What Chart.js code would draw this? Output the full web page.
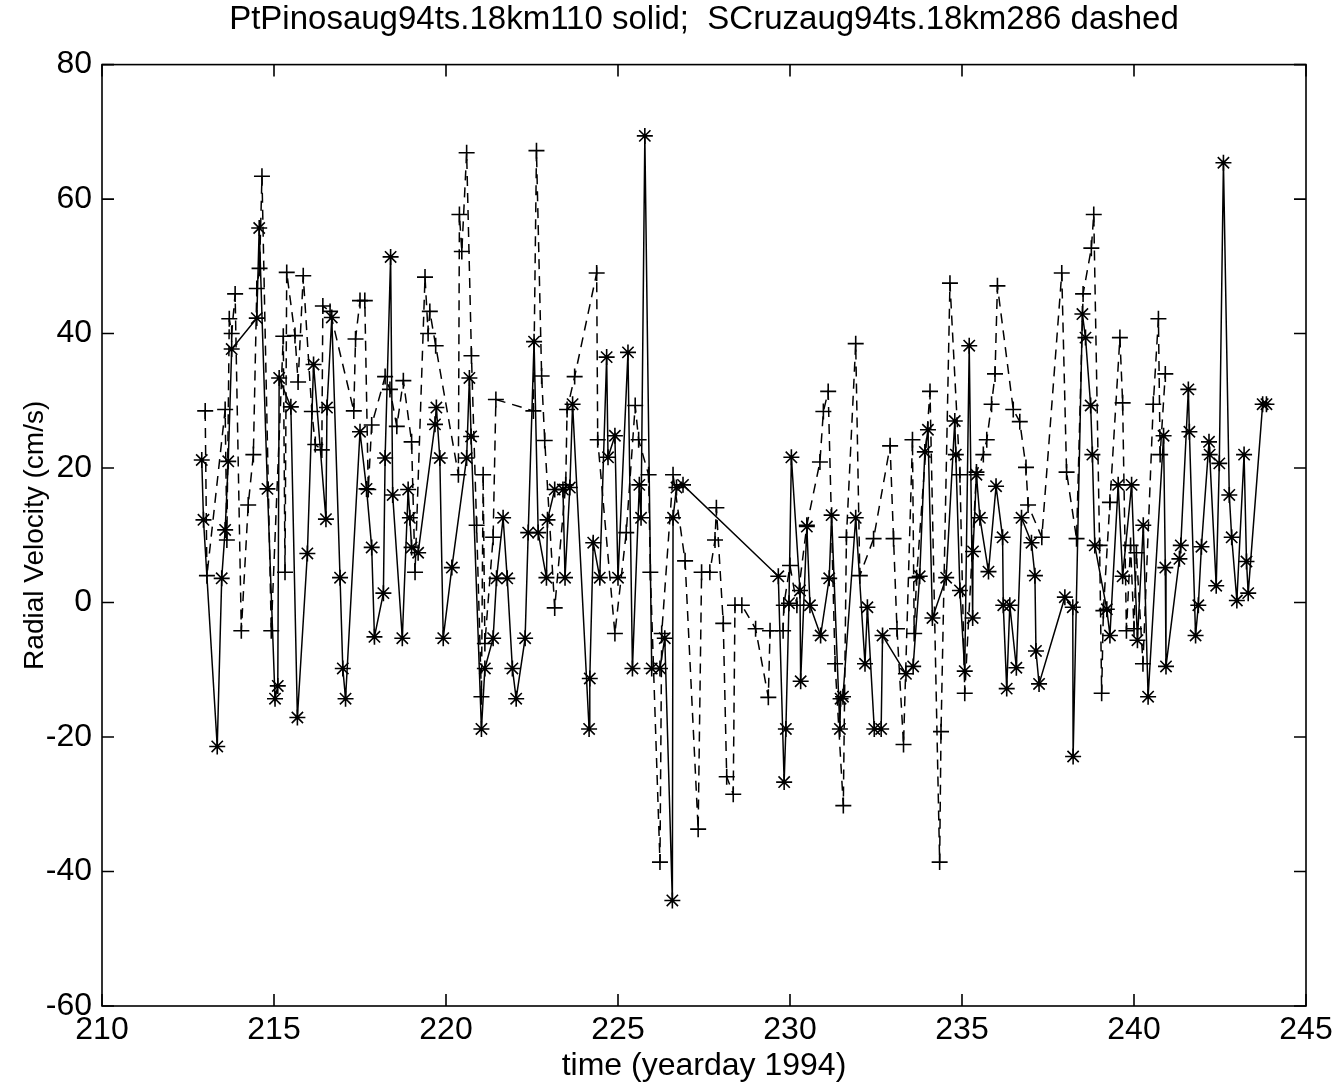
<!DOCTYPE html>
<html>
<head>
<meta charset="utf-8">
<script src="https://cdn.jsdelivr.net/npm/chart.js@4.4.1/dist/chart.umd.min.js"></script>
<style>
  html, body { margin: 0; background: #fff; }
</style>
</head>
<body>
<canvas id="velChart" width="1340" height="1085"></canvas>
<script>
// PtPinos (solid, asterisks)
const solidDays = [212.90,212.95,213.35,213.48,213.58,213.67,213.77,214.50,214.57,214.81,215.03,215.11,215.15,215.49,215.68,215.97,216.15,216.51,216.54,216.68,216.92,217.0,217.08,217.50,217.69,217.84,217.92,218.18,218.23,218.39,218.45,218.73,218.90,218.95,219.0,219.19,219.68,219.72,219.82,219.92,220.17,220.60,220.68,220.73,221.03,221.13,221.37,221.47,221.66,221.78,221.93,222.04,222.30,222.39,222.56,222.68,222.92,222.95,223.16,223.40,223.46,223.60,223.68,224.16,224.18,224.28,224.47,224.67,224.71,224.91,225.0,225.29,225.42,225.62,225.67,225.78,225.98,226.22,226.36,226.58,226.60,226.70,226.89,229.66,229.83,229.88,229.97,230.04,230.29,230.31,230.49,230.58,230.89,231.14,231.21,231.45,231.47,231.54,231.91,232.18,232.25,232.45,232.65,232.69,233.37,233.58,233.77,233.92,234.01,234.14,234.54,234.79,234.82,234.94,235.08,235.21,235.31,235.32,235.42,235.52,235.77,235.99,236.18,236.20,236.30,236.39,236.58,236.73,237.02,237.12,237.15,237.24,237.99,238.22,238.23,238.50,238.59,238.74,238.79,238.86,239.21,239.30,239.54,239.67,239.93,240.10,240.27,240.41,240.86,240.91,240.93,241.32,241.36,241.58,241.61,241.79,241.87,241.96,242.18,242.20,242.39,242.48,242.60,242.77,242.84,242.99,243.20,243.27,243.32,243.74,243.85];
const solidVel = [21.2,12.3,-21.4,3.6,10.8,21.0,37.7,42.3,55.7,16.9,-14.3,-12.4,33.4,29.1,-17.1,7.3,35.4,12.4,29.0,42.4,3.7,-9.8,-14.3,25.4,16.9,8.2,-5.1,1.4,21.5,51.4,16.0,-5.3,16.8,12.6,8.2,7.4,26.5,29.0,21.5,-5.3,5.2,21.5,33.4,24.7,-18.8,-9.8,-5.3,3.6,12.6,3.6,-9.8,-14.3,-5.3,10.4,38.8,10.4,3.7,12.3,16.8,16.8,3.7,17.1,29.5,-18.8,-11.3,8.9,3.7,36.5,21.6,24.8,3.7,37.2,-9.8,17.5,12.6,69.4,-9.8,-9.8,-5.3,-44.3,12.6,17.1,17.5,3.9,-26.7,-18.8,-0.1,21.6,1.8,-11.7,11.3,-0.4,-4.9,3.6,13.0,-18.8,-14.3,-14.0,12.6,-9.1,-0.7,-18.8,-18.8,-4.9,-10.6,-9.5,3.9,22.4,25.7,-2.3,3.7,27.0,22.0,1.8,-10.2,38.2,-2.3,7.6,19.0,12.6,4.6,17.3,9.7,-0.4,-12.8,-0.4,-9.7,12.6,8.9,4.0,-7.2,-12.1,0.8,-0.7,-22.9,42.9,39.4,29.3,22.0,8.5,-1.0,-4.9,17.5,3.9,17.5,-5.6,11.5,-14.0,24.8,5.2,-9.5,6.5,8.5,31.7,25.4,-4.9,-0.4,8.3,23.9,22.0,2.5,20.7,65.4,16.0,9.7,0.3,22.0,6.1,1.4,29.5,29.5];

// SCruz (dashed, plus signs)
const dashDays = [213.0,213.05,213.58,213.63,213.70,213.77,213.87,214.05,214.25,214.40,214.50,214.58,214.65,214.92,215.27,215.32,215.37,215.61,215.70,215.85,216.10,216.20,216.39,216.42,216.63,217.32,217.37,217.50,217.64,217.74,217.84,218.23,218.37,218.57,218.76,219.0,219.10,219.39,219.48,219.53,219.70,220.36,220.39,220.46,220.60,220.74,220.89,221.03,221.08,221.13,221.37,221.45,222.54,222.63,222.78,222.87,223.16,223.48,223.52,223.74,224.38,224.41,224.91,225.24,225.50,225.60,225.89,225.94,226.22,226.27,226.60,226.95,227.33,227.43,227.67,227.82,227.86,228.06,228.16,228.35,228.40,228.60,229.0,229.37,229.42,229.80,229.82,230.0,230.20,230.49,230.87,230.97,231.11,231.31,231.55,231.64,231.91,232.03,232.43,232.91,233.01,233.11,233.30,233.56,233.61,233.68,234.07,234.35,234.39,234.65,234.94,235.08,235.42,235.62,235.72,235.86,235.96,236.03,236.49,236.68,236.86,236.92,237.32,237.90,238.04,238.33,238.52,238.76,238.83,239.0,239.06,239.11,239.30,239.59,239.67,239.78,239.90,240.0,240.07,240.26,240.56,240.71,240.76,240.91];
const dashVel = [28.5,4.0,28.7,9.3,42.2,40.0,45.9,-4.2,14.5,22.0,46.7,49.7,63.4,-4.2,39.6,4.5,49.1,39.7,32.8,48.6,28.4,23.5,22.7,44.1,43.3,28.5,39.2,44.9,44.9,16.8,26.4,33.6,31.7,26.2,33.0,23.9,4.5,48.4,40.0,43.3,38.2,19.0,57.7,52.2,66.9,36.7,11.5,-14.0,19.0,-6.1,9.7,30.2,28.5,67.2,33.7,24.1,-0.8,17.5,28.7,33.6,49.0,24.2,-4.6,10.4,29.3,24.2,19.0,4.5,-38.6,-4.6,19.0,6.2,-33.7,4.5,4.5,9.3,14.1,-3.1,-25.9,-28.5,-0.4,-0.4,-3.9,-14.1,-4.2,-4.2,-0.4,5.5,-0.4,11.5,20.9,28.4,31.4,-9.1,-30.2,9.7,38.5,4.0,9.5,23.3,9.5,-3.9,-21.1,24.2,-4.6,3.7,31.4,-38.6,-19.2,47.5,19.0,-13.5,19.4,22.0,24.2,29.5,34.0,47.1,28.7,26.9,20.1,14.5,9.7,49.0,19.4,9.5,45.9,52.7,57.7,8.5,-13.5,-1.2,14.9,39.4,29.7,-4.2,8.5,-3.9,7.4,-9.1,29.5,42.2,22.0,34.0];

const xTicks = [210, 215, 220, 225, 230, 235, 240, 245];
const yTicks = [-60, -40, -20, 0, 20, 40, 60, 80];

function toPoints(days, vals) {
  return days.map((d, i) => ({ x: d, y: vals[i] }));
}

const fontFam = "'Liberation Sans', Arial, sans-serif";

// matlab-style box with inward ticks on all four sides
const boxTicks = {
  id: 'boxTicks',
  afterDatasetsDraw(chart) {
    const { ctx, chartArea: a, scales } = chart;
    const len = 12;
    ctx.save();
    ctx.strokeStyle = '#000';
    ctx.lineWidth = 1.6;
    ctx.strokeRect(a.left, a.top, a.right - a.left, a.bottom - a.top);
    ctx.beginPath();
    xTicks.forEach(v => {
      const px = scales.x.getPixelForValue(v);
      ctx.moveTo(px, a.bottom); ctx.lineTo(px, a.bottom - len);
      ctx.moveTo(px, a.top); ctx.lineTo(px, a.top + len);
    });
    yTicks.forEach(v => {
      const py = scales.y.getPixelForValue(v);
      ctx.moveTo(a.left, py); ctx.lineTo(a.left + len, py);
      ctx.moveTo(a.right, py); ctx.lineTo(a.right - len, py);
    });
    ctx.stroke();
    ctx.restore();
  }
};

const ctx = document.getElementById('velChart').getContext('2d');
const velChart = new Chart(ctx, {
  type: 'line',
  data: {
    datasets: [{
      label: 'PtPinos solid',
      data: toPoints(solidDays, solidVel),
      borderColor: '#000',
      borderWidth: 1.5,
      pointStyle: 'star',
      pointRadius: 8,
      pointBorderWidth: 1.6,
      pointBorderColor: '#000',
      pointBackgroundColor: '#000',
      tension: 0,
      fill: false
    }, {
      label: 'SCruz dashed',
      data: toPoints(dashDays, dashVel),
      borderColor: '#000',
      borderWidth: 1.5,
      borderDash: [10, 7],
      pointStyle: 'cross',
      pointRadius: 8,
      pointBorderWidth: 1.6,
      pointBorderColor: '#000',
      tension: 0,
      fill: false
    }]
  },
  options: {
    responsive: false,
    animation: false,
    layout: { padding: { left: 0, right: 34, top: 0, bottom: 0 } },
    plugins: {
      legend: { display: false },
      tooltip: { enabled: false },
      title: {
        display: true,
        fullSize: false,
        text: 'PtPinosaug94ts.18km110 solid;  SCruzaug94ts.18km286 dashed',
        color: '#000',
        font: { family: fontFam, size: 33, weight: 'normal' },
        padding: { top: 0, bottom: 25 }
      }
    },
    scales: {
      x: {
        type: 'linear',
        min: 210,
        max: 245,
        afterBuildTicks: s => { s.ticks = xTicks.map(v => ({ value: v })); },
        grid: { display: false, drawTicks: false },
        border: { display: false },
        ticks: { color: '#000', font: { family: fontFam, size: 32 }, padding: 5, maxRotation: 0 },
        title: { display: true, text: 'time (yearday 1994)', color: '#000', font: { family: fontFam, size: 32 }, padding: { top: 0, bottom: 0 } },
        afterFit: s => { s.height = 79; s.paddingLeft = 0; s.paddingRight = 0; }
      },
      y: {
        type: 'linear',
        min: -60,
        max: 80,
        afterBuildTicks: s => { s.ticks = yTicks.map(v => ({ value: v })); },
        grid: { display: false, drawTicks: false },
        border: { display: false },
        ticks: { color: '#000', font: { family: fontFam, size: 32 }, padding: 10 },
        title: { display: true, text: 'Radial Velocity (cm/s)', color: '#000', font: { family: fontFam, size: 28 }, padding: { top: 18, bottom: 0 } },
        afterFit: s => { s.width = 102; }
      }
    }
  },
  plugins: [boxTicks]
});
</script>
</body>
</html>
